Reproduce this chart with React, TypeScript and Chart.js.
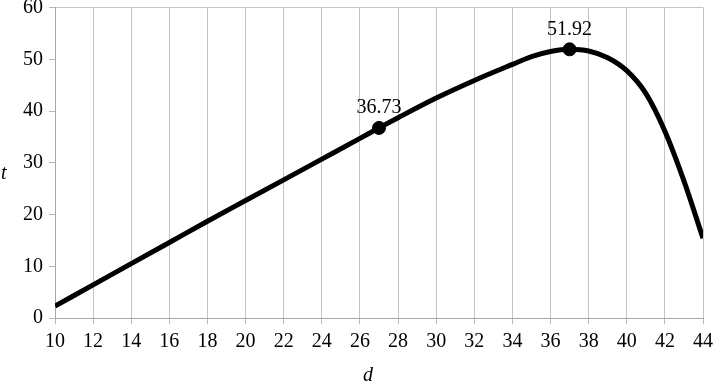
import React, { useEffect, useRef } from "react";
import { Chart, registerables } from "chart.js";

Chart.register(...registerables);

const dValues = [10, 12, 14, 16, 18, 20, 22, 24, 26, 27, 28, 30, 32, 34, 35, 36, 37, 38, 39, 40, 41, 42, 43, 44];
const tValues = [2.3, 6.4, 10.5, 14.6, 18.7, 22.7, 26.7, 30.7, 34.7, 36.73, 38.7, 42.5, 45.9, 49.0, 50.5, 51.5, 51.92, 51.6, 50.3, 47.8, 43.4, 36.1, 26.5, 15.4];
const markD = [27, 37];
const markT = [36.73, 51.92];
const markLabels = ["36.73", "51.92"];
const xTitle = "d";
const yTitle = "t";

const FONT = "'Liberation Serif', 'Times New Roman', serif";

const labelPlugin = {
  id: "labels",
  afterDatasetsDraw(chart: any) {
    const ctx = chart.ctx;
    const meta = chart.getDatasetMeta(1);
    ctx.save();
    ctx.font = `20px ${FONT}`;
    ctx.fillStyle = "#000";
    ctx.textAlign = "center";
    ctx.textBaseline = "middle";
    meta.data.forEach((pt: any, i: number) => {
      ctx.fillText(markLabels[i], pt.x, pt.y - 20);
    });
    const ca = chart.chartArea;
    ctx.font = `italic 20px ${FONT}`;
    ctx.fillText(xTitle, (ca.left + ca.right) / 2 - 11, 376);
    ctx.textAlign = "left";
    ctx.fillText(yTitle, 1, (ca.top + ca.bottom) / 2 + 11);
    ctx.restore();
  },
};

export default function App() {
  const ref = useRef<HTMLCanvasElement>(null);
  useEffect(() => {
    document.body.style.margin = "0";
    const canvas = ref.current!;
    const chart = new Chart(canvas, {
      type: "line",
      data: {
        datasets: [
          {
            data: dValues.map((d, i) => ({ x: d, y: tValues[i] })),
            borderColor: "#000",
            borderWidth: 5,
            pointRadius: 0,
            cubicInterpolationMode: "monotone",
            fill: false,
          },
          {
            data: markD.map((d, i) => ({ x: d, y: markT[i] })),
            showLine: false,
            pointRadius: 6.5,
            pointBackgroundColor: "#000",
            pointBorderColor: "#000",
            borderColor: "#000",
          },
        ],
      },
      options: {
        responsive: false,
        animation: false,
        layout: { padding: { left: 0, right: 10, top: 7, bottom: 0 } },
        plugins: { legend: { display: false }, tooltip: { enabled: false } },
        scales: {
          x: {
            type: "linear",
            min: 10,
            max: 44,
            ticks: { stepSize: 2, font: { family: FONT, size: 20 }, color: "#000", padding: 6, maxRotation: 0 },
            grid: { color: "#c4c4c4", lineWidth: 1, tickLength: 6, tickColor: "#b8b8b8" },
            border: { color: "#a8a8a8", width: 1 },
            afterFit: (s: any) => {
              s.height = 66;
              s.paddingLeft = 0;
              s.paddingRight = 0;
            },
          },
          y: {
            min: 0,
            max: 60,
            ticks: { stepSize: 10, font: { family: FONT, size: 20 }, color: "#000", padding: 6 },
            grid: {
              color: (c: any) => (c.tick && c.tick.value === 60 ? "#c4c4c4" : "rgba(0,0,0,0)"),
              tickColor: "#b8b8b8",
              tickLength: 6,
              lineWidth: 1,
            },
            border: { color: "#a8a8a8", width: 1 },
            afterFit: (s: any) => {
              s.width = 55;
              s.paddingTop = 0;
              s.paddingBottom = 0;
            },
          },
        },
      },
      plugins: [labelPlugin],
    });
    return () => chart.destroy();
  }, []);
  return (
    <div style={{ width: 713, height: 384 }}>
      <canvas ref={ref} width={713} height={384} />
    </div>
  );
}
